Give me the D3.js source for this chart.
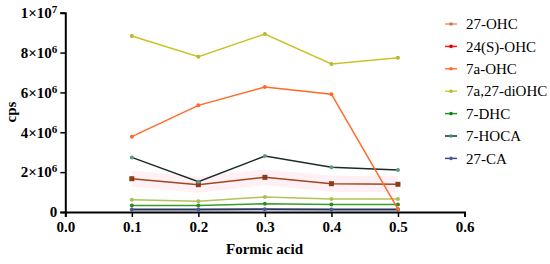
<!DOCTYPE html>
<html>
<head>
<meta charset="utf-8">
<script src="https://cdn.jsdelivr.net/npm/d3@7"></script>
<style>
  body { margin: 0; background: #fff; }
  svg text { font-family: "Liberation Serif", "Times New Roman", serif !important; }
</style>
</head>
<body>
<div id="chartArea"></div>
<script>
// formic acid concentration (x)
const formicAcid = [0.1, 0.2, 0.3, 0.4, 0.5];
const seriesNames = ["27-OHC", "24(S)-OHC", "7a-OHC", "7a,27-diOHC", "7-DHC", "7-HOCA", "27-CA"];
// cps values
const ohc27    = [0.62e6, 0.54e6, 0.75e6, 0.65e6, 0.65e6];
const ohc24S   = [1.67e6, 1.37e6, 1.74e6, 1.42e6, 1.39e6];
const ohc7a    = [3.78e6, 5.35e6, 6.27e6, 5.91e6, 0.15e6];
const diohc    = [8.83e6, 7.79e6, 8.93e6, 7.43e6, 7.74e6];
const dhc7     = [0.32e6, 0.32e6, 0.42e6, 0.38e6, 0.38e6];
const hoca7    = [2.74e6, 1.52e6, 2.81e6, 2.24e6, 2.11e6];
const ca27     = [0.12e6, 0.12e6, 0.14e6, 0.13e6, 0.13e6];
const xTicks = [0, 0.1, 0.2, 0.3, 0.4, 0.5, 0.6];
const yTicks = [0, 2e6, 4e6, 6e6, 8e6, 1e7];

const allSeries = [ohc27, ohc24S, ohc7a, diohc, dhc7, hoca7, ca27];
const lineColors   = ["#b5c257", "#a0461e", "#ff6a28", "#c8c428", "#3c9a28", "#1c2a2a", "#27345e"];
const markerColors = ["#b0bc5a", "#8a3c1a", "#ff6a28", "#b8b830", "#2f8a24", "#5a9a8c", "#4a5a9a"];
const legendLine   = ["#e39a6a", "#ff1a1a", "#ff7a3a", "#d4d030", "#1a9a2a", "#1c2a2a", "#3a4a7a"];
const legendMarker = ["#c87a4a", "#e00000", "#ff6a28", "#b8b830", "#1a7a1a", "#2a9a8a", "#4a5a9a"];

const width = 550, height = 264;
const svg = d3.select("#chartArea")
              .append("svg")
              .attr("width", width)
              .attr("height", height);

const xScale = d3.scaleLinear().domain([0, 0.6]).range([65.3, 464.5]);
const yScale = d3.scaleLinear().domain([0, 1e7]).range([212, 12.7]);

// faint pink band behind 24(S)-OHC
const band = d3.area()
               .x((d, i) => xScale(formicAcid[i]))
               .y0(d => yScale(d - 0.4e6))
               .y1(d => yScale(d + 0.4e6));
svg.append("path")
   .attr("d", band(ohc24S))
   .attr("fill", "#fff0f5");

const line = d3.line()
               .x((d, i) => xScale(formicAcid[i]))
               .y(d => yScale(d));

// draw lines, back to front
const order = [6, 4, 0, 1, 5, 2, 3];
order.forEach(k => {
    svg.append("path")
       .attr("d", line(allSeries[k]))
       .attr("fill", "none")
       .attr("stroke", lineColors[k])
       .attr("stroke-width", k === 6 ? 2 : 1.5);
    if (k === 1) {
        svg.selectAll(null)
           .data(allSeries[k])
           .enter().append("rect")
           .attr("x", (d, i) => xScale(formicAcid[i]) - 2.5)
           .attr("y", d => yScale(d) - 2.5)
           .attr("width", 5).attr("height", 5)
           .attr("fill", markerColors[k]);
    } else {
        svg.selectAll(null)
           .data(allSeries[k])
           .enter().append("circle")
           .attr("cx", (d, i) => xScale(formicAcid[i]))
           .attr("cy", d => yScale(d))
           .attr("r", 2)
           .attr("fill", markerColors[k]);
    }
});

// axes
const yFmt = d => {
    if (d === 0) return "0";
    const e = Math.floor(Math.log10(d));
    return (d / Math.pow(10, e)) + "\u00d710";
};
const xAxis = d3.axisBottom(xScale).tickValues(xTicks).tickSize(5).tickPadding(4).tickFormat(d3.format(".1f"));
const yAxis = d3.axisLeft(yScale).tickValues(yTicks).tickSize(5).tickPadding(3).tickFormat(yFmt);

const xg = svg.append("g")
              .attr("transform", `translate(0,${yScale(0)})`)
              .call(xAxis);
const yg = svg.append("g")
              .attr("transform", `translate(${xScale(0)},0)`)
              .call(yAxis);

[xg, yg].forEach(g => {
    g.attr("font-family", null);
    g.select(".domain").attr("stroke", "#000").attr("stroke-width", 2);
    g.selectAll(".tick line").attr("stroke", "#000").attr("stroke-width", 1.5);
    g.selectAll("text")
     .attr("fill", "#000")
     .style("font-size", "15px")
     .style("font-weight", "bold");
});

// superscript exponents on y labels
yg.selectAll(".tick text").each(function(d) {
    if (d === 0) return;
    const e = Math.floor(Math.log10(d));
    d3.select(this).append("tspan")
      .attr("dy", "-0.45em")
      .style("font-size", "11px")
      .text(e);
});

svg.append("text")
   .attr("x", 264.5)
   .attr("y", 254)
   .attr("text-anchor", "middle")
   .style("font-size", "15px")
   .style("font-weight", "bold")
   .text("Formic acid");

svg.append("text")
   .attr("transform", "translate(16,112) rotate(-90)")
   .attr("text-anchor", "middle")
   .style("font-size", "15px")
   .style("font-weight", "bold")
   .text("cps");

// legend
const legend = svg.append("g").attr("transform", "translate(445,24)");
seriesNames.forEach((name, i) => {
    const g = legend.append("g").attr("transform", `translate(0,${i * 22.4})`);
    g.append("line")
     .attr("x1", 0).attr("x2", 12)
     .attr("stroke", legendLine[i]).attr("stroke-width", 1.5);
    g.append("circle")
     .attr("cx", 6).attr("r", 1.8)
     .attr("fill", legendMarker[i]);
    g.append("text")
     .attr("x", 21)
     .attr("dy", "0.35em")
     .style("font-size", "15px")
     .text(name);
});
</script>
</body>
</html>
